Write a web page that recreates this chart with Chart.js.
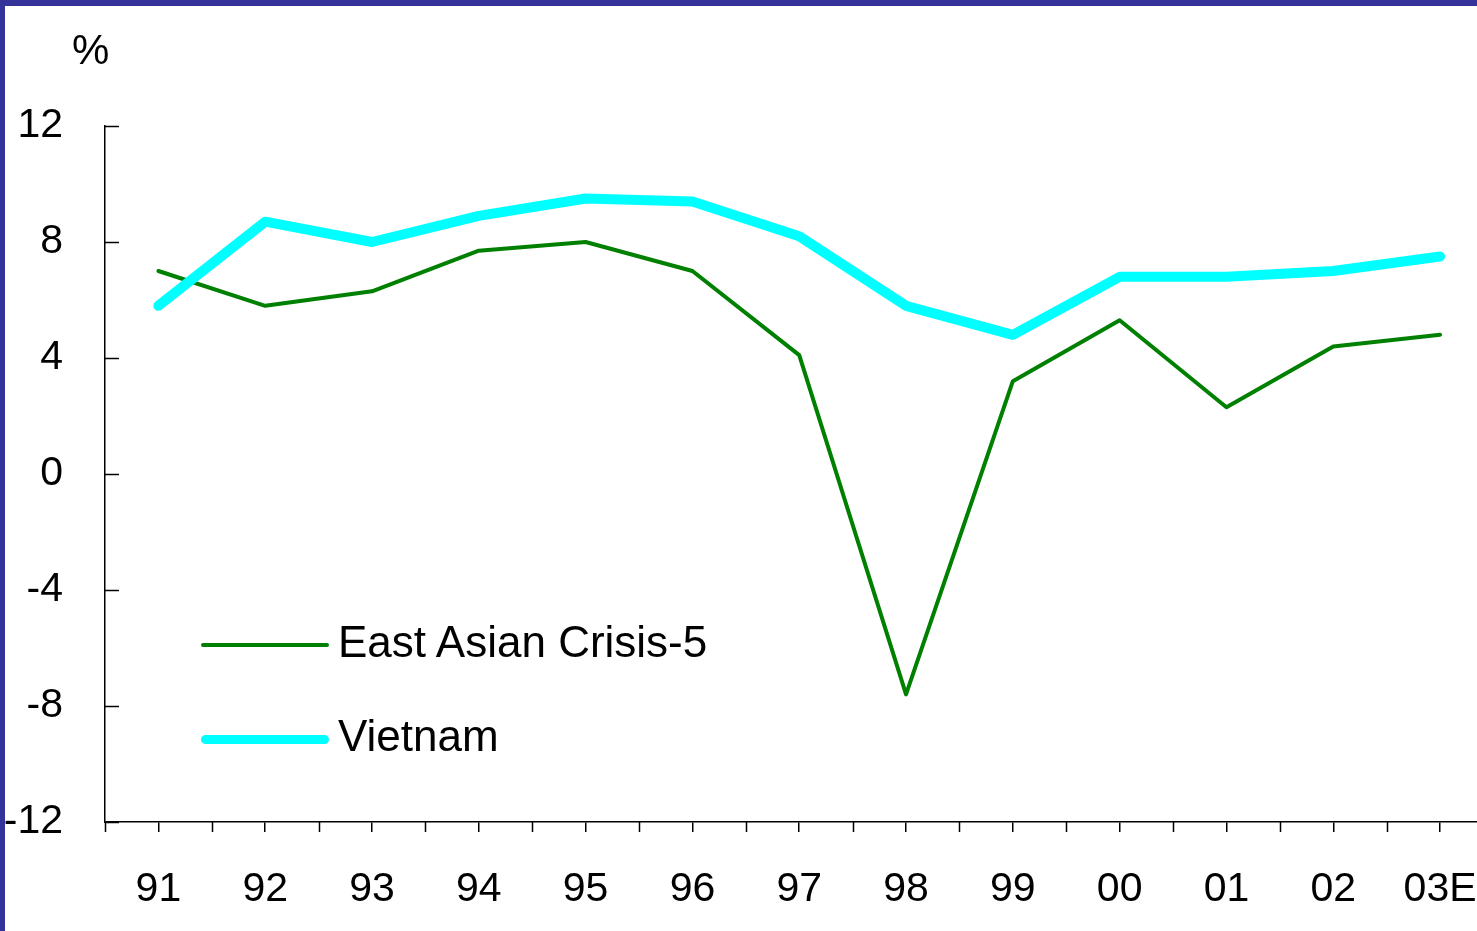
<!DOCTYPE html>
<html>
<head>
<meta charset="utf-8">
<script src="https://cdn.jsdelivr.net/npm/chart.js@4"></script>
<style>
  html, body { margin: 0; padding: 0; }
  body { width: 1477px; height: 931px; overflow: hidden; background: #333399; font-family: "Liberation Sans", Arial, sans-serif; }
  #plot { position: absolute; left: 5px; top: 6px; width: 1472px; height: 925px; background: #fff; overflow: hidden; }
  #graphic { position: absolute; left: 0; top: 0; }
  #unit { position: absolute; left: 67px; top: 23px; font-size: 42px; line-height: 1; color: #000; }
  .key { position: absolute; left: 196px; height: 44px; }
  .key .swatch { position: absolute; left: 0; width: 128px; }
  .key .name { position: absolute; left: 137px; top: -2px; font-size: 44px; line-height: 1; color: #000; white-space: nowrap; }
</style>
</head>
<body>
<div id="plot">
  <canvas id="graphic" width="1505" height="925"></canvas>
  <div id="unit">%</div>
  <div id="legend"></div>
</div>
<script>
const years = ['91', '92', '93', '94', '95', '96', '97', '98', '99', '00', '01', '02', '03E']
const eastAsia = [7.0, 5.8, 6.3, 7.7, 8.0, 7.0, 4.1, -7.6, 3.2, 5.3, 2.3, 4.4, 4.8]
const vietnam = [5.8, 8.7, 8.0, 8.9, 9.5, 9.4, 8.2, 5.8, 4.8, 6.8, 6.8, 7.0, 7.5]
const yTicks = [-12, -8, -4, 0, 4, 8, 12]

// ticks that point into the plot on y, and the in-between ticks on x
const innerTicks = {
  id: 'innerTicks',
  afterDraw(chart) {
    const {ctx, chartArea, scales: {x, y}} = chart
    ctx.save()
    ctx.strokeStyle = '#000'
    ctx.lineWidth = 1.5
    ctx.beginPath()
    y.ticks.forEach(t => {
      const py = Math.round(y.getPixelForValue(t.value)) + 0.5
      ctx.moveTo(chartArea.left, py)
      ctx.lineTo(chartArea.left + 14, py)
    })
    const step = x.getPixelForValue(1) - x.getPixelForValue(0)
    for (let i = 0; i <= years.length; i++) {
      const px = Math.round(x.getPixelForValue(i) - step / 2) + 0.5
      ctx.moveTo(px, chartArea.bottom)
      ctx.lineTo(px, chartArea.bottom + 10)
    }
    ctx.stroke()
    ctx.restore()
  }
}

const datasets = [
  { label: 'East Asian Crisis-5', data: eastAsia, borderColor: '#008000', borderWidth: 4, order: 1, keyHeight: 4, keyTop: 639 },
  { label: 'Vietnam', data: vietnam, borderColor: '#00ffff', borderWidth: 10, order: 0, keyHeight: 9, keyTop: 733 }
]

const chart = new Chart(document.querySelector('#graphic'), {
  type: 'line',
  data: {
    labels: years,
    datasets: datasets.map(d => ({
      label: d.label,
      data: d.data,
      borderColor: d.borderColor,
      borderWidth: d.borderWidth,
      order: d.order,
      pointRadius: 0,
      tension: 0,
      borderCapStyle: 'round',
      borderJoinStyle: 'round',
      fill: false
    }))
  },
  plugins: [innerTicks],
  options: {
    responsive: false,
    animation: false,
    events: [],
    layout: { padding: { top: 120, right: 12, bottom: 0, left: 0 } },
    plugins: { legend: { display: false }, tooltip: { enabled: false } },
    scales: {
      x: {
        offset: true,
        afterFit: s => { s.height = 109 },
        grid: { display: true, drawOnChartArea: false, tickLength: 10, color: '#000', lineWidth: 1.5, offset: false },
        border: { display: true, color: '#000', width: 1.5 },
        ticks: { color: '#000', font: { family: 'Liberation Sans', size: 41 }, padding: 33, maxRotation: 0, autoSkip: false }
      },
      y: {
        min: -12,
        max: 12,
        afterFit: s => { s.width = 100 },
        afterBuildTicks: s => { s.ticks = yTicks.map(v => ({ value: v })) },
        grid: { display: false },
        border: { display: true, color: '#000', width: 1.5 },
        ticks: { color: '#000', font: { family: 'Liberation Sans', size: 41 }, padding: 34 }
      }
    }
  }
})

const legendBox = document.querySelector('#legend')
datasets.forEach(d => {
  const row = document.createElement('div')
  row.className = 'key'
  row.style.top = (d.keyTop - 23) + 'px'
  const swatch = document.createElement('div')
  swatch.className = 'swatch'
  swatch.style.top = (23 - d.keyHeight / 2) + 'px'
  swatch.style.height = d.keyHeight + 'px'
  swatch.style.borderRadius = (d.keyHeight / 2) + 'px'
  swatch.style.background = d.borderColor
  const name = document.createElement('div')
  name.className = 'name'
  name.textContent = d.label
  row.appendChild(swatch)
  row.appendChild(name)
  legendBox.appendChild(row)
})
</script>
</body>
</html>
